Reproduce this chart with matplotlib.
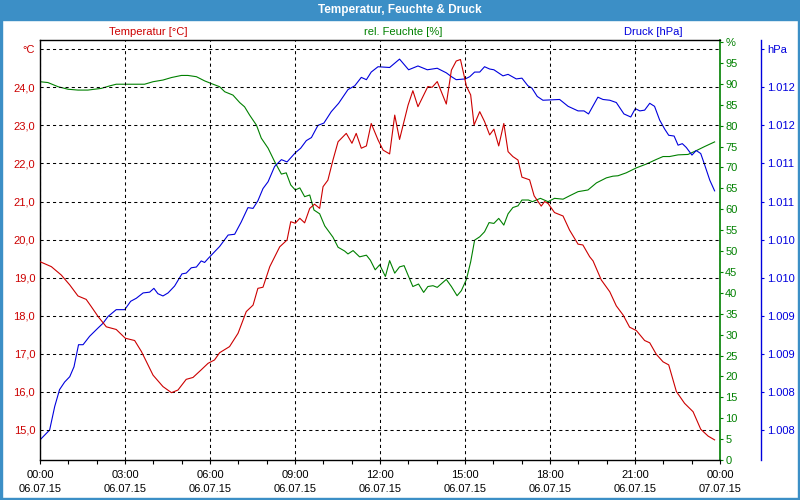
import matplotlib
matplotlib.use("Agg")
import matplotlib.pyplot as plt
from matplotlib.patches import Rectangle

plt.rcParams['font.family'] = ['Liberation Sans', 'DejaVu Sans']

# ---------------- data ----------------
temp_h = [0.0, 0.40, 0.75, 1.05, 1.34, 1.63, 1.81, 2.05, 2.34, 2.69, 3.01, 3.34, 3.58, 3.99, 4.34, 4.64,
          4.87, 5.16, 5.40, 5.69, 5.93, 6.16, 6.34, 6.69, 6.99, 7.28, 7.52, 7.69, 7.87, 8.11, 8.46, 8.72,
          8.85, 9.01, 9.17, 9.34, 9.52, 9.69, 9.87, 9.99, 10.16, 10.34, 10.52, 10.81, 11.01, 11.16, 11.34,
          11.52, 11.69, 11.93, 12.11, 12.34, 12.52, 12.69, 12.99, 13.16, 13.34, 13.69, 13.84, 14.02, 14.34,
          14.52, 14.69, 14.84, 15.05, 15.20, 15.32, 15.52, 15.69, 15.87, 16.02, 16.19, 16.37, 16.52, 16.69,
          16.87, 17.01, 17.28, 17.44, 17.69, 17.81, 17.93, 18.16, 18.46, 18.69, 18.99, 19.16, 19.40, 19.52,
          19.81, 20.11, 20.34, 20.58, 20.81, 21.05, 21.34, 21.52, 21.75, 21.99, 22.19, 22.46, 22.75, 23.05,
          23.32, 23.58, 23.81]
temp_v = [19.42, 19.29, 19.07, 18.81, 18.52, 18.43, 18.24, 17.98, 17.71, 17.64, 17.41, 17.35, 17.06, 16.44,
          16.14, 15.98, 16.05, 16.33, 16.38, 16.58, 16.75, 16.84, 17.03, 17.19, 17.54, 18.11, 18.28, 18.72,
          18.75, 19.29, 19.81, 19.99, 20.47, 20.43, 20.56, 20.44, 20.82, 20.93, 20.82, 21.39, 21.56, 22.09,
          22.57, 22.79, 22.53, 22.79, 22.40, 22.46, 23.05, 22.62, 22.35, 22.25, 23.27, 22.63, 23.53, 23.91,
          23.49, 24.02, 24.00, 24.15, 23.56, 24.45, 24.69, 24.73, 24.03, 23.80, 23.01, 23.36, 23.10, 22.75,
          22.90, 22.46, 23.05, 22.31, 22.18, 22.09, 21.64, 21.57, 21.15, 20.88, 21.00, 20.95, 20.71, 20.62,
          20.25, 19.88, 19.86, 19.55, 19.44, 18.94, 18.63, 18.26, 18.02, 17.70, 17.61, 17.35, 17.29, 16.99,
          16.79, 16.71, 16.01, 15.70, 15.48, 15.02, 14.84, 14.74]

hum_h = [0.0, 0.28, 0.64, 0.99, 1.34, 1.69, 2.16, 2.46, 2.69, 3.69, 3.99, 4.34, 4.64, 4.99, 5.22, 5.52,
         5.81, 6.07, 6.34, 6.52, 6.81, 7.05, 7.22, 7.40, 7.64, 7.81, 8.05, 8.28, 8.52, 8.69, 8.85, 9.01,
         9.17, 9.34, 9.52, 9.67, 9.87, 10.05, 10.34, 10.52, 10.75, 10.87, 11.05, 11.28, 11.52, 11.66, 11.83,
         11.99, 12.19, 12.34, 12.52, 12.69, 12.85, 13.01, 13.16, 13.36, 13.54, 13.69, 13.87, 14.02, 14.34,
         14.52, 14.72, 14.87, 15.05, 15.20, 15.34, 15.52, 15.69, 15.85, 16.02, 16.19, 16.37, 16.52, 16.69,
         16.87, 17.01, 17.24, 17.38, 17.66, 17.93, 18.16, 18.46, 18.69, 18.99, 19.34, 19.64, 19.99, 20.22,
         20.40, 20.69, 21.05, 21.40, 21.75, 21.99, 22.22, 22.52, 22.87, 23.16, 23.46, 23.81]
hum_v = [90.5, 90.3, 89.3, 88.7, 88.5, 88.5, 88.9, 89.5, 89.9, 89.9, 90.5, 90.9, 91.5, 92.0, 92.0, 91.7,
         90.7, 90.0, 89.3, 88.1, 87.3, 85.5, 84.5, 82.5, 80.1, 77.0, 74.6, 71.4, 68.4, 68.7, 65.8, 64.6,
         65.1, 63.0, 63.4, 59.8, 58.9, 56.0, 53.3, 50.9, 50.0, 49.3, 50.1, 48.6, 49.0, 47.8, 45.5,
         46.7, 43.9, 47.7, 44.7, 46.2, 46.5, 43.9, 41.5, 42.1, 40.1, 41.5, 41.7, 41.3, 43.2,
         41.5, 39.3, 40.5, 43.2, 47.4, 52.6, 53.4, 54.6, 56.8, 56.6, 57.8, 56.2, 58.9, 60.4,
         60.8, 62.2, 62.2, 61.8, 62.6, 61.8, 62.6, 62.4, 63.2, 64.2, 64.6, 66.3, 67.5, 67.9,
         68.0, 68.7, 69.9, 70.8, 71.9, 72.6, 72.6, 73.0, 73.1, 74.0, 75.0, 76.1]

press_h = [0.0, 0.34, 0.52, 0.69, 0.87, 1.05, 1.20, 1.36, 1.52, 1.75, 2.05, 2.22, 2.40, 2.69, 2.99, 3.20,
           3.40, 3.64, 3.87, 4.02, 4.16, 4.34, 4.52, 4.75, 5.01, 5.16, 5.34, 5.52, 5.69, 5.81, 5.93, 6.34,
           6.64, 6.87, 7.10, 7.34, 7.52, 7.69, 7.87, 8.05, 8.28, 8.52, 8.72, 9.01, 9.20, 9.40, 9.58, 9.81,
           10.02, 10.28, 10.54, 10.87, 11.11, 11.34, 11.52, 11.69, 11.93, 12.34, 12.69, 13.01, 13.34, 13.67,
           14.02, 14.34, 14.52, 14.69, 15.01, 15.17, 15.34, 15.52, 15.69, 15.87, 16.02, 16.34, 16.52, 16.81,
           17.01, 17.22, 17.36, 17.55, 17.75, 18.34, 18.64, 18.99, 19.20, 19.36, 19.69, 19.87, 20.11, 20.34,
           20.61, 20.85, 21.01, 21.17, 21.34, 21.52, 21.69, 21.87, 22.05, 22.19, 22.38, 22.52, 22.67, 22.81,
           23.01, 23.16, 23.32, 23.46, 23.64, 23.81]
press_v = [1007.87, 1008.00, 1008.31, 1008.53, 1008.63, 1008.70, 1008.83, 1009.12, 1009.12, 1009.23, 1009.34,
           1009.40, 1009.49, 1009.58, 1009.58, 1009.69, 1009.73, 1009.80, 1009.81, 1009.86, 1009.79, 1009.76,
           1009.80, 1009.89, 1010.05, 1010.06, 1010.13, 1010.14, 1010.22, 1010.20, 1010.25, 1010.41, 1010.56,
           1010.57, 1010.73, 1010.92, 1010.91, 1011.01, 1011.17, 1011.26, 1011.46, 1011.55, 1011.52, 1011.64,
           1011.70, 1011.80, 1011.84, 1012.00, 1012.03, 1012.18, 1012.29, 1012.47, 1012.52, 1012.63, 1012.60,
           1012.70, 1012.77, 1012.76, 1012.87, 1012.73, 1012.78, 1012.73, 1012.75, 1012.69, 1012.64, 1012.60,
           1012.61, 1012.64, 1012.70, 1012.70, 1012.77, 1012.74, 1012.73, 1012.65, 1012.67, 1012.61, 1012.62,
           1012.52, 1012.49, 1012.38, 1012.33, 1012.34, 1012.25, 1012.19, 1012.19, 1012.15, 1012.37, 1012.34,
           1012.33, 1012.30, 1012.15, 1012.11, 1012.22, 1012.19, 1012.20, 1012.29, 1012.25, 1012.07, 1011.95,
           1011.87, 1011.86, 1011.74, 1011.76, 1011.71, 1011.61, 1011.67, 1011.63, 1011.48, 1011.28, 1011.14]

x_ticks = [0, 3, 6, 9, 12, 15, 18, 21, 24]
x_labels = ["00:00\n06.07.15", "03:00\n06.07.15", "06:00\n06.07.15", "09:00\n06.07.15",
            "12:00\n06.07.15", "15:00\n06.07.15", "18:00\n06.07.15", "21:00\n06.07.15",
            "00:00\n07.07.15"]
temp_ticks = [15, 16, 17, 18, 19, 20, 21, 22, 23, 24, 25]
temp_labels = ["15,0", "16,0", "17,0", "18,0", "19,0", "20,0", "21,0", "22,0", "23,0", "24,0", "°C"]
hum_ticks = list(range(0, 101, 5))
hum_labels = [str(v) for v in range(0, 100, 5)] + ["%"]
press_ticks = [1008.0, 1008.5, 1009.0, 1009.5, 1010.0, 1010.5, 1011.0, 1011.5, 1012.0, 1012.5, 1013.0]
press_labels = ["1.008", "1.008", "1.009", "1.009", "1.010", "1.010", "1.011", "1.011", "1.012", "1.012", "hPa"]

# ---------------- style ----------------
RED = '#cc0000'
GREEN = '#008000'
BLUE = '#0000dd'
BAR = '#3c8fc6'
FS = 8

fig = plt.figure(figsize=(8, 5), dpi=100)
fig.patch.set_facecolor('white')

# title bar and border
fig.add_artist(Rectangle((0, 480 / 500), 1, 20 / 500, transform=fig.transFigure, color=BAR, zorder=0))
fig.add_artist(Rectangle((0, 0), 2 / 800, 1, transform=fig.transFigure, color=BAR, zorder=0))
fig.add_artist(Rectangle((798 / 800, 0), 2 / 800, 1, transform=fig.transFigure, color=BAR, zorder=0))
fig.add_artist(Rectangle((0, 0), 1, 2 / 500, transform=fig.transFigure, color=BAR, zorder=0))
fig.text(0.5, 1 - 10 / 500, "Temperatur, Feuchte & Druck", color='white', fontsize=8.5,
         fontweight='bold', ha='center', va='center')

ax = fig.add_axes([40 / 800, 40 / 500, 680 / 800, 420 / 500])
ax2 = ax.twinx()
ax3 = ax.twinx()

# temperature axis
ax.set_xlim(0, 24)
ax.set_ylim(14.212, 25.242)
ax.set_xticks(x_ticks)
ax.set_xticklabels(x_labels, fontsize=FS, linespacing=1.45)
ax.set_xticks(range(0, 25), minor=True)
ax.tick_params(axis='x', which='both', direction='out', length=3, width=0.8, color='black', pad=4.5)
ax.set_yticks(temp_ticks)
ax.set_yticklabels(temp_labels, fontsize=FS, color=RED)
ax.tick_params(axis='y', length=0, pad=3.5)
ax.grid(True, which='major', color='black', linestyle=(0, (3, 3)), linewidth=0.75)
for s in ['left', 'top', 'bottom']:
    ax.spines[s].set_color('black')
    ax.spines[s].set_linewidth(1.0)
ax.spines['right'].set_visible(False)

# humidity axis
ax2.set_ylim(0, 100.48)
ax2.set_yticks(hum_ticks)
ax2.set_yticklabels(hum_labels, fontsize=FS, color=GREEN)
ax2.tick_params(axis='y', length=2.2, width=0.8, color=GREEN, pad=1.5)
for s in ['left', 'top', 'bottom']:
    ax2.spines[s].set_visible(False)
ax2.spines['right'].set_color(GREEN)
ax2.spines['right'].set_linewidth(1.2)

# pressure axis (position the spine first: it resets the ticks)
ax3.spines['right'].set_position(('axes', 1 + 40.7 / 680))
ax3.set_ylim(1007.606, 1013.121)
ax3.set_yticks(press_ticks)
ax3.set_yticklabels(press_labels, fontsize=FS, color=BLUE)
ax3.tick_params(axis='y', length=2.2, width=0.8, color=BLUE, pad=2.5)
for s in ['left', 'top', 'bottom']:
    ax3.spines[s].set_visible(False)
ax3.spines['right'].set_color(BLUE)
ax3.spines['right'].set_linewidth(1.0)

# data lines
ax2.plot(hum_h, hum_v, color=GREEN, linewidth=0.8)
ax3.plot(press_h, press_v, color=BLUE, linewidth=0.8)
ax.plot(temp_h, temp_v, color=RED, linewidth=0.8, zorder=5)
ax.set_zorder(3)
ax.patch.set_visible(False)
ax2.set_zorder(1)
ax3.set_zorder(2)

# series headers
fig.text(148 / 800, 1 - 32 / 500, "Temperatur [°C]", color=RED, fontsize=FS, ha='center', va='center')
fig.text(403 / 800, 1 - 32 / 500, "rel. Feuchte [%]", color=GREEN, fontsize=FS, ha='center', va='center')
fig.text(653 / 800, 1 - 32 / 500, "Druck [hPa]", color=BLUE, fontsize=FS, ha='center', va='center')

fig.savefig("out.png", dpi=100, facecolor='white')
